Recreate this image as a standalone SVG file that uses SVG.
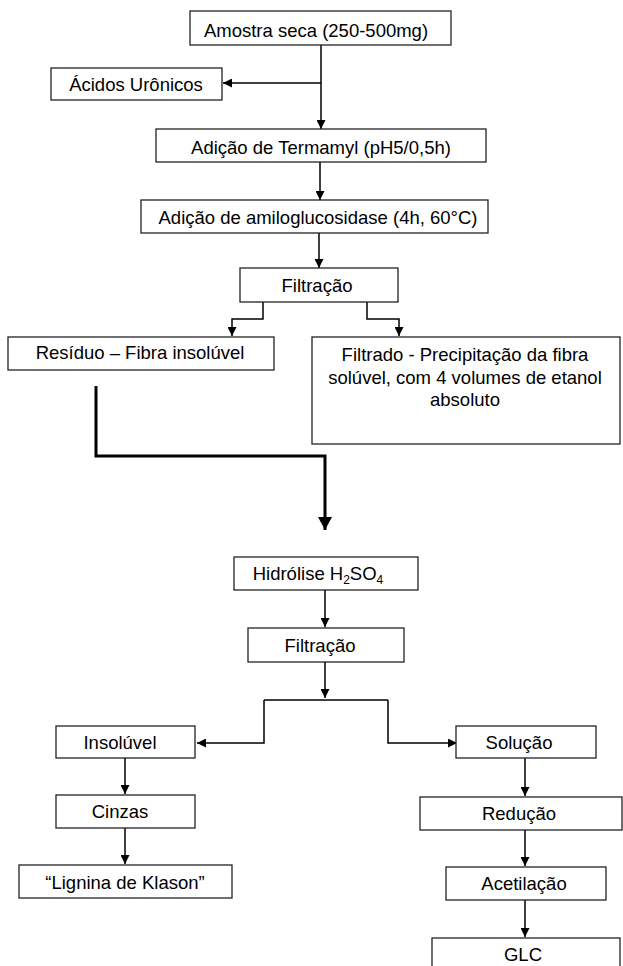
<svg xmlns="http://www.w3.org/2000/svg" width="623" height="966" viewBox="0 0 623 966">
<style>
.box{fill:#fff;stroke:#222;stroke-width:1.3}
.t{font-family:"Liberation Sans",Arial,sans-serif;font-size:18.5px;fill:#000;text-anchor:middle}
.s{font-size:12px}
.c{fill:none;stroke:#000;stroke-width:1.5}
.a{marker-end:url(#ah)}
.thick{fill:none;stroke:#000;stroke-width:3;marker-end:url(#ahb)}
</style>
<defs>
<marker id="ah" viewBox="0 0 10 10" refX="10" refY="5" markerWidth="10" markerHeight="9" markerUnits="userSpaceOnUse" orient="auto"><path d="M0,0 L10,5 L0,10 z" fill="#000"/></marker>
<marker id="ahb" viewBox="0 0 13 14" refX="13" refY="7" markerWidth="13" markerHeight="14" markerUnits="userSpaceOnUse" orient="auto"><path d="M0,0 L13,7 L0,14 z" fill="#000"/></marker>
</defs>
<rect width="623" height="966" fill="#fff"/>
<g id="connectors">
<path class="c a" d="M321,45 V129"/>
<path class="c a" d="M321,83 H223"/>
<path class="c a" d="M320,162 V200"/>
<path class="c a" d="M319,233 V268"/>
<path class="c a" d="M263,302 V319 H232 V336"/>
<path class="c a" d="M367,302 V319 H399 V336"/>
<path class="thick" d="M96,386 V456 H325 V530"/>
<path class="c a" d="M325,590 V627"/>
<path class="c a" d="M325,662 V698"/>
<path class="c" d="M264,700 H388"/>
<path class="c a" d="M264,700 V743 H197"/>
<path class="c a" d="M388,700 V743 H457"/>
<path class="c a" d="M125,758 V794"/>
<path class="c a" d="M125,828 V864"/>
<path class="c a" d="M525,758 V796"/>
<path class="c a" d="M525,830 V866"/>
<path class="c a" d="M525,900 V937"/>
</g>
<g id="amostra"><rect class="box" x="190" y="11" width="261" height="34"/><text class="t" x="316" y="37">Amostra seca (250-500mg)</text></g>
<g id="acidos"><rect class="box" x="51" y="68" width="171" height="32"/><text class="t" x="136" y="91">Ácidos Urônicos</text></g>
<g id="termamyl"><rect class="box" x="156" y="129" width="330" height="33"/><text class="t" x="321" y="154">Adição de Termamyl (pH5/0,5h)</text></g>
<g id="amiloglucosidase"><rect class="box" x="141" y="200" width="347" height="33"/><text class="t" x="318" y="224">Adição de amiloglucosidase (4h, 60°C)</text></g>
<g id="filtracao1"><rect class="box" x="240" y="268" width="158" height="34"/><text class="t" x="317" y="292">Filtração</text></g>
<g id="residuo"><rect class="box" x="8" y="337" width="266" height="33"/><text class="t" x="140" y="359">Resíduo – Fibra insolúvel</text></g>
<g id="filtrado"><rect class="box" x="312" y="337" width="308" height="107"/><text class="t" x="465" y="361">Filtrado - Precipitação da fibra</text><text class="t" x="465" y="384">solúvel, com 4 volumes de etanol</text><text class="t" x="465" y="406">absoluto</text></g>
<g id="hidrolise"><rect class="box" x="234" y="557" width="184" height="33"/><text class="t" x="318" y="580">Hidrólise H<tspan class="s" dy="4">2</tspan><tspan dy="-4">SO</tspan><tspan class="s" dy="4">4</tspan></text></g>
<g id="filtracao2"><rect class="box" x="248" y="628" width="156" height="34"/><text class="t" x="320" y="652">Filtração</text></g>
<g id="insoluvel"><rect class="box" x="56" y="726" width="139" height="32"/><text class="t" x="120" y="749">Insolúvel</text></g>
<g id="cinzas"><rect class="box" x="56" y="795" width="139" height="33"/><text class="t" x="120" y="818">Cinzas</text></g>
<g id="lignina"><rect class="box" x="19" y="865" width="213" height="33"/><text class="t" x="125" y="889">“Lignina de Klason”</text></g>
<g id="solucao"><rect class="box" x="456" y="726" width="140" height="32"/><text class="t" x="519" y="749">Solução</text></g>
<g id="reducao"><rect class="box" x="420" y="797" width="202" height="33"/><text class="t" x="519" y="820">Redução</text></g>
<g id="acetilacao"><rect class="box" x="446" y="867" width="160" height="33"/><text class="t" x="524" y="890">Acetilação</text></g>
<g id="glc"><rect class="box" x="432" y="938" width="188" height="40"/><text class="t" x="523" y="961">GLC</text></g>
</svg>
